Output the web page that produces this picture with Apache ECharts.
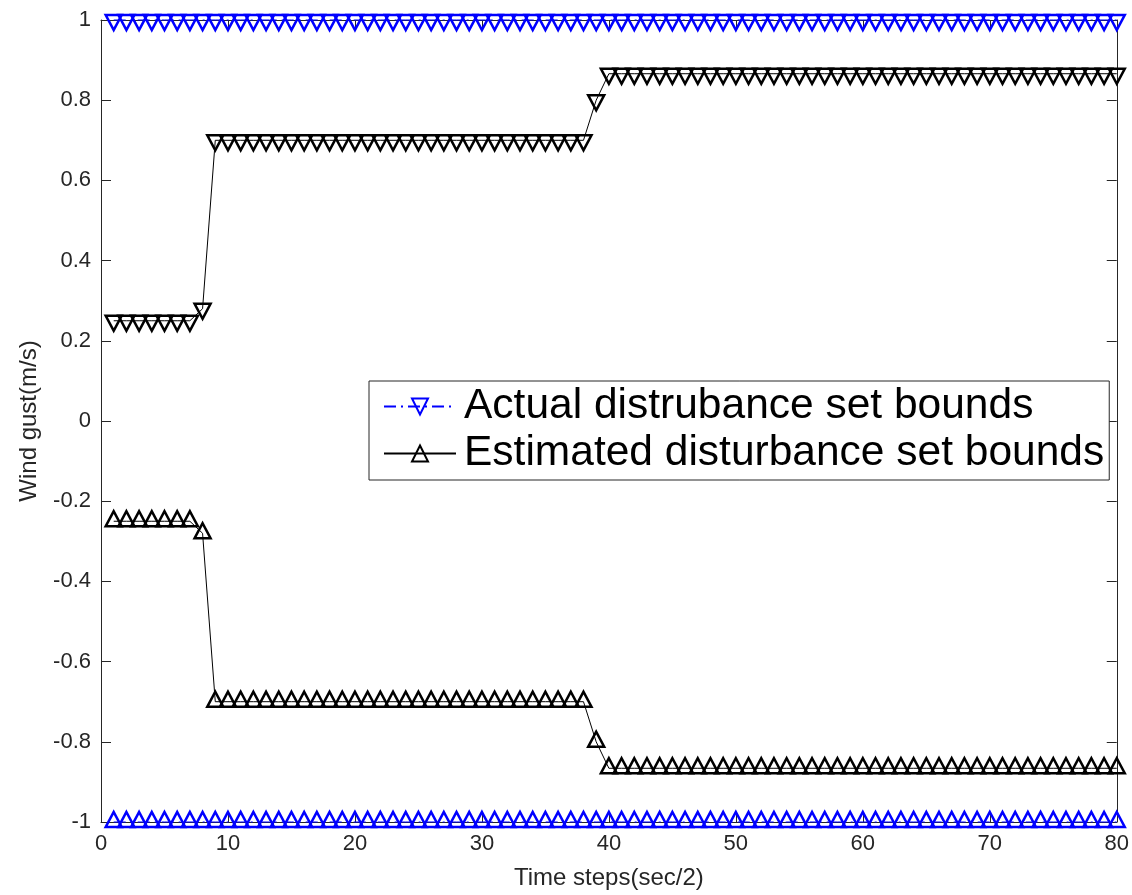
<!DOCTYPE html>
<html>
<head>
<meta charset="utf-8">
<script src="https://cdn.jsdelivr.net/npm/echarts@6/dist/echarts.min.js"></script>
<style>
html,body{margin:0;padding:0;background:#fff;}
#chart{width:1132px;height:895px;}
</style>
</head>
<body>
<div id="chart"></div>
<script>
// Time steps (x values)
const steps = [1,2,3,4,5,6,7,8,9,10,11,12,13,14,15,16,17,18,19,20,21,22,23,24,25,26,27,28,29,30,31,32,33,34,35,36,37,38,39,40,41,42,43,44,45,46,47,48,49,50,51,52,53,54,55,56,57,58,59,60,61,62,63,64,65,66,67,68,69,70,71,72,73,74,75,76,77,78,79,80];

// Actual disturbance set bounds
const actualUpper = [1,1,1,1,1,1,1,1,1,1,1,1,1,1,1,1,1,1,1,1,1,1,1,1,1,1,1,1,1,1,1,1,1,1,1,1,1,1,1,1,1,1,1,1,1,1,1,1,1,1,1,1,1,1,1,1,1,1,1,1,1,1,1,1,1,1,1,1,1,1,1,1,1,1,1,1,1,1,1,1];
const actualLower = [-1,-1,-1,-1,-1,-1,-1,-1,-1,-1,-1,-1,-1,-1,-1,-1,-1,-1,-1,-1,-1,-1,-1,-1,-1,-1,-1,-1,-1,-1,-1,-1,-1,-1,-1,-1,-1,-1,-1,-1,-1,-1,-1,-1,-1,-1,-1,-1,-1,-1,-1,-1,-1,-1,-1,-1,-1,-1,-1,-1,-1,-1,-1,-1,-1,-1,-1,-1,-1,-1,-1,-1,-1,-1,-1,-1,-1,-1,-1,-1];

// Estimated disturbance set bounds
const estUpper = [0.25,0.25,0.25,0.25,0.25,0.25,0.25,0.28,
  0.70,0.70,0.70,0.70,0.70,0.70,0.70,0.70,0.70,0.70,0.70,0.70,0.70,0.70,0.70,0.70,0.70,0.70,0.70,0.70,0.70,0.70,0.70,0.70,0.70,0.70,0.70,0.70,0.70,0.70,
  0.80,
  0.866,0.866,0.866,0.866,0.866,0.866,0.866,0.866,0.866,0.866,0.866,0.866,0.866,0.866,0.866,0.866,0.866,0.866,0.866,0.866,0.866,0.866,0.866,0.866,0.866,0.866,0.866,0.866,0.866,0.866,0.866,0.866,0.866,0.866,0.866,0.866,0.866,0.866,0.866,0.866,0.866];
const estLower = [-0.25,-0.25,-0.25,-0.25,-0.25,-0.25,-0.25,-0.28,
  -0.70,-0.70,-0.70,-0.70,-0.70,-0.70,-0.70,-0.70,-0.70,-0.70,-0.70,-0.70,-0.70,-0.70,-0.70,-0.70,-0.70,-0.70,-0.70,-0.70,-0.70,-0.70,-0.70,-0.70,-0.70,-0.70,-0.70,-0.70,-0.70,-0.70,
  -0.80,
  -0.866,-0.866,-0.866,-0.866,-0.866,-0.866,-0.866,-0.866,-0.866,-0.866,-0.866,-0.866,-0.866,-0.866,-0.866,-0.866,-0.866,-0.866,-0.866,-0.866,-0.866,-0.866,-0.866,-0.866,-0.866,-0.866,-0.866,-0.866,-0.866,-0.866,-0.866,-0.866,-0.866,-0.866,-0.866,-0.866,-0.866,-0.866,-0.866,-0.866,-0.866];

const seriesNames = ['Actual distrubance set bounds', 'Estimated disturbance set bounds'];
const xLabel = 'Time steps(sec/2)';
const yLabel = 'Wind gust(m/s)';

function pairs(ys) { return steps.map((x, i) => [x, ys[i]]); }

const FONT = '"Liberation Sans", Arial, Helvetica, sans-serif';
const AX = '#262626';
const BLUE = '#0000ff';

const chart = echarts.init(document.getElementById('chart'), null, {renderer: 'canvas'});

function mkSeries(name, ys, color, down, dashed) {
  return {
    name: name,
    type: 'line',
    data: pairs(ys),
    clip: false,
    symbol: 'triangle',
    symbolSize: [16, 15],
    symbolRotate: down ? 180 : 0,
    symbolOffset: [0, down ? 2.5 : -2.5],
    showAllSymbol: true,
    lineStyle: { color: color, width: 1, type: dashed ? [12, 5, 2, 5] : 'solid' },
    itemStyle: { color: 'rgba(0,0,0,0)', borderColor: color, borderWidth: 2.5 },
    emphasis: { disabled: true },
    animation: false,
    z: 3
  };
}

const option = {
  animation: false,
  backgroundColor: '#fff',
  textStyle: { fontFamily: FONT },
  grid: { left: 101, right: 10, top: 20, bottom: 67, containLabel: false },
  legend: {
    show: true,
    orient: 'vertical',
    left: 369,
    top: 381,
    padding: [4, 5, 5, 14],
    itemGap: 4,
    itemWidth: 72,
    itemHeight: 20,
    borderColor: AX,
    borderWidth: 1,
    backgroundColor: '#fff',
    selectedMode: false,
    textStyle: { fontSize: 42.5, color: '#000', fontFamily: FONT, padding: [0, 0, 0, 3] },
    data: seriesNames
  },
  xAxis: [{
    type: 'value', min: 0, max: 80, interval: 10,
    name: xLabel, nameLocation: 'middle', nameGap: 44,
    nameTextStyle: { fontSize: 24, color: AX, fontFamily: FONT },
    axisLine: { show: true, onZero: false, lineStyle: { color: AX, width: 1 } },
    axisTick: { show: true, inside: true, length: 10, lineStyle: { color: AX } },
    axisLabel: { fontSize: 22, color: AX, margin: 11, fontFamily: FONT },
    splitLine: { show: false }
  }, {
    type: 'value', min: 0, max: 80, interval: 10, position: 'top',
    axisLine: { show: true, onZero: false, lineStyle: { color: AX, width: 1 } },
    axisTick: { show: true, inside: true, length: 10, lineStyle: { color: AX } },
    axisLabel: { show: false },
    splitLine: { show: false }
  }],
  yAxis: [{
    type: 'value', min: -1, max: 1, interval: 0.2,
    name: yLabel, nameLocation: 'middle', nameGap: 60,
    nameTextStyle: { fontSize: 24, color: AX, fontFamily: FONT },
    axisLine: { show: true, onZero: false, lineStyle: { color: AX, width: 1 } },
    axisTick: { show: true, inside: true, length: 10, lineStyle: { color: AX } },
    axisLabel: { fontSize: 22, color: AX, margin: 10, fontFamily: FONT,
      formatter: v => String(Math.round(v * 10) / 10) },
    splitLine: { show: false }
  }, {
    type: 'value', min: -1, max: 1, interval: 0.2, position: 'right',
    axisLine: { show: true, onZero: false, lineStyle: { color: AX, width: 1 } },
    axisTick: { show: true, inside: true, length: 10, lineStyle: { color: AX } },
    axisLabel: { show: false },
    splitLine: { show: false }
  }],
  series: [
    mkSeries(seriesNames[0], actualUpper, BLUE, true, true),
    mkSeries(seriesNames[0], actualLower, BLUE, false, true),
    mkSeries(seriesNames[1], estLower, '#000', false, false),
    mkSeries(seriesNames[1], estUpper, '#000', true, false)
  ]
};
chart.setOption(option);
</script>
</body>
</html>
